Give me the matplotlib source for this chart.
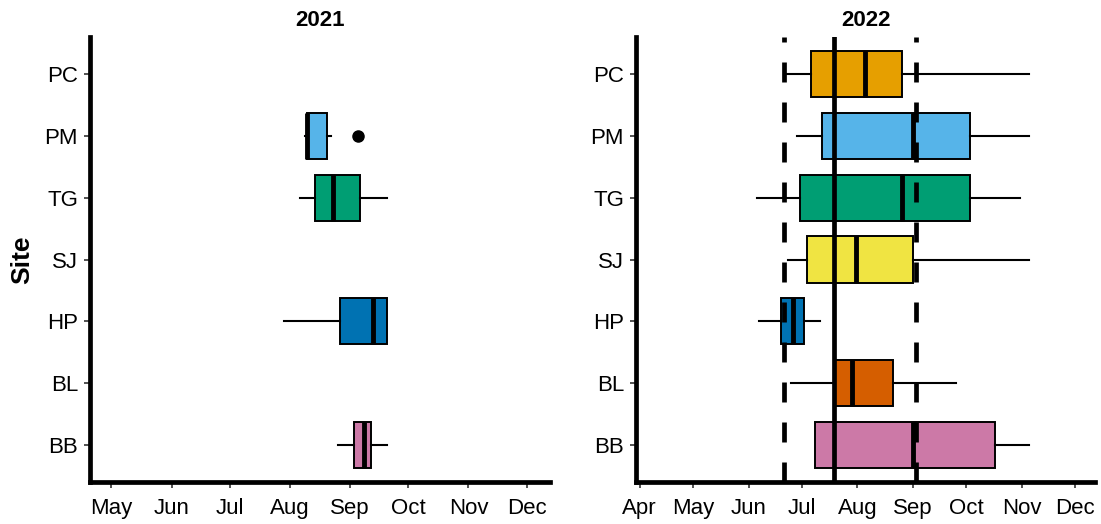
import numpy as np
import matplotlib.pyplot as plt
import matplotlib.dates as mdates

plt.rcParams["font.family"] = ["Liberation Sans", "DejaVu Sans"]
plt.rcParams["lines.scale_dashes"] = False

SITES = ["PC", "PM", "TG", "SJ", "HP", "BL", "BB"]
COLORS = {"PC": "#E69F00", "PM": "#56B4E9", "TG": "#009E73", "SJ": "#F0E442",
          "HP": "#0072B2", "BL": "#D55E00", "BB": "#CC79A7"}

# 2021 box summaries (whisker low, Q1, median, Q3, whisker high)
sites_2021 = ["PM", "TG", "HP", "BB"]
lo_2021 = ["2021-08-09", "2021-08-06", "2021-07-29", "2021-08-26"]
q1_2021 = ["2021-08-10", "2021-08-14", "2021-08-27", "2021-09-03"]
med_2021 = ["2021-08-10", "2021-08-23", "2021-09-13", "2021-09-08"]
q3_2021 = ["2021-08-20", "2021-09-06", "2021-09-20", "2021-09-12"]
hi_2021 = ["2021-08-22", "2021-09-20", "2021-09-20", "2021-09-20"]
out_2021 = {"PM": ["2021-09-05"]}

# 2022 box summaries
sites_2022 = ["PC", "PM", "TG", "SJ", "HP", "BL", "BB"]
lo_2022 = ["2022-06-21", "2022-06-28", "2022-06-06", "2022-06-23", "2022-06-07", "2022-06-25", "2022-07-08"]
q1_2022 = ["2022-07-06", "2022-07-12", "2022-06-30", "2022-07-04", "2022-06-19", "2022-07-19", "2022-07-08"]
med_2022 = ["2022-08-05", "2022-09-01", "2022-08-26", "2022-07-31", "2022-06-26", "2022-07-29", "2022-09-01"]
q3_2022 = ["2022-08-26", "2022-10-03", "2022-10-03", "2022-09-01", "2022-07-02", "2022-08-21", "2022-10-17"]
hi_2022 = ["2022-11-05", "2022-11-05", "2022-10-31", "2022-11-05", "2022-07-11", "2022-09-25", "2022-11-05"]
out_2022 = {}

# reference lines in 2022
dashed_2022 = ["2022-06-21", "2022-09-03"]
solid_2022 = ["2022-07-19"]


def d(s):
    return mdates.datestr2num(s)


def draw_panel(ax, title, sites, lo, q1, med, q3, hi, outl, xlim):
    stats = []
    pos = []
    for i, s in enumerate(sites):
        stats.append(dict(whislo=d(lo[i]), q1=d(q1[i]), med=d(med[i]),
                          q3=d(q3[i]), whishi=d(hi[i]),
                          fliers=[d(x) for x in outl.get(s, [])]))
        pos.append(len(SITES) - 1 - SITES.index(s))
    bp = ax.bxp(stats, positions=pos, widths=0.75, orientation="horizontal",
                patch_artist=True, showcaps=False,
                boxprops=dict(edgecolor="black", linewidth=1.4),
                whiskerprops=dict(color="black", linewidth=1.5),
                medianprops=dict(color="black", linewidth=3.5),
                flierprops=dict(marker="o", markerfacecolor="black",
                                markeredgecolor="black", markersize=8))
    for box, s in zip(bp["boxes"], sites):
        box.set_facecolor(COLORS[s])
    ax.set_ylim(-0.6, len(SITES) - 0.4)
    ax.set_yticks(range(len(SITES)))
    ax.set_yticklabels(SITES[::-1])
    ax.set_xlim(d(xlim[0]), d(xlim[1]))
    ax.xaxis.set_major_locator(mdates.MonthLocator())
    ax.xaxis.set_major_formatter(mdates.DateFormatter("%b"))
    ax.set_title(title, fontsize=16, fontweight="bold", pad=8)
    for sp in ["top", "right"]:
        ax.spines[sp].set_visible(False)
    for sp in ["left", "bottom"]:
        ax.spines[sp].set_linewidth(3.4)
    ax.tick_params(length=4.2, width=1.2, color="#333333", labelsize=16,
                   labelcolor="black", pad=4.5)
    ax.tick_params(axis="x", pad=7.5)


fig = plt.figure(figsize=(11.01, 5.24), dpi=100)
ax1 = fig.add_axes([90 / 1101, 42 / 524, 460 / 1101, 445 / 524])
ax2 = fig.add_axes([636 / 1101, 42 / 524, 459 / 1101, 445 / 524])

draw_panel(ax1, "2021", sites_2021, lo_2021, q1_2021, med_2021, q3_2021,
           hi_2021, out_2021, ("2021-04-20", "2021-12-13"))
draw_panel(ax2, "2022", sites_2022, lo_2022, q1_2022, med_2022, q3_2022,
           hi_2022, out_2022, ("2022-03-30", "2022-12-12"))

for x in dashed_2022:
    ax2.axvline(d(x), color="black", linewidth=3.4, linestyle=(0, (14.4, 14.4)), zorder=5)
for x in solid_2022:
    ax2.axvline(d(x), color="black", linewidth=3.4, zorder=5)

ax1.set_ylabel("Site", fontsize=19, fontweight="bold", labelpad=7)

fig.savefig("out.png", dpi=100)
